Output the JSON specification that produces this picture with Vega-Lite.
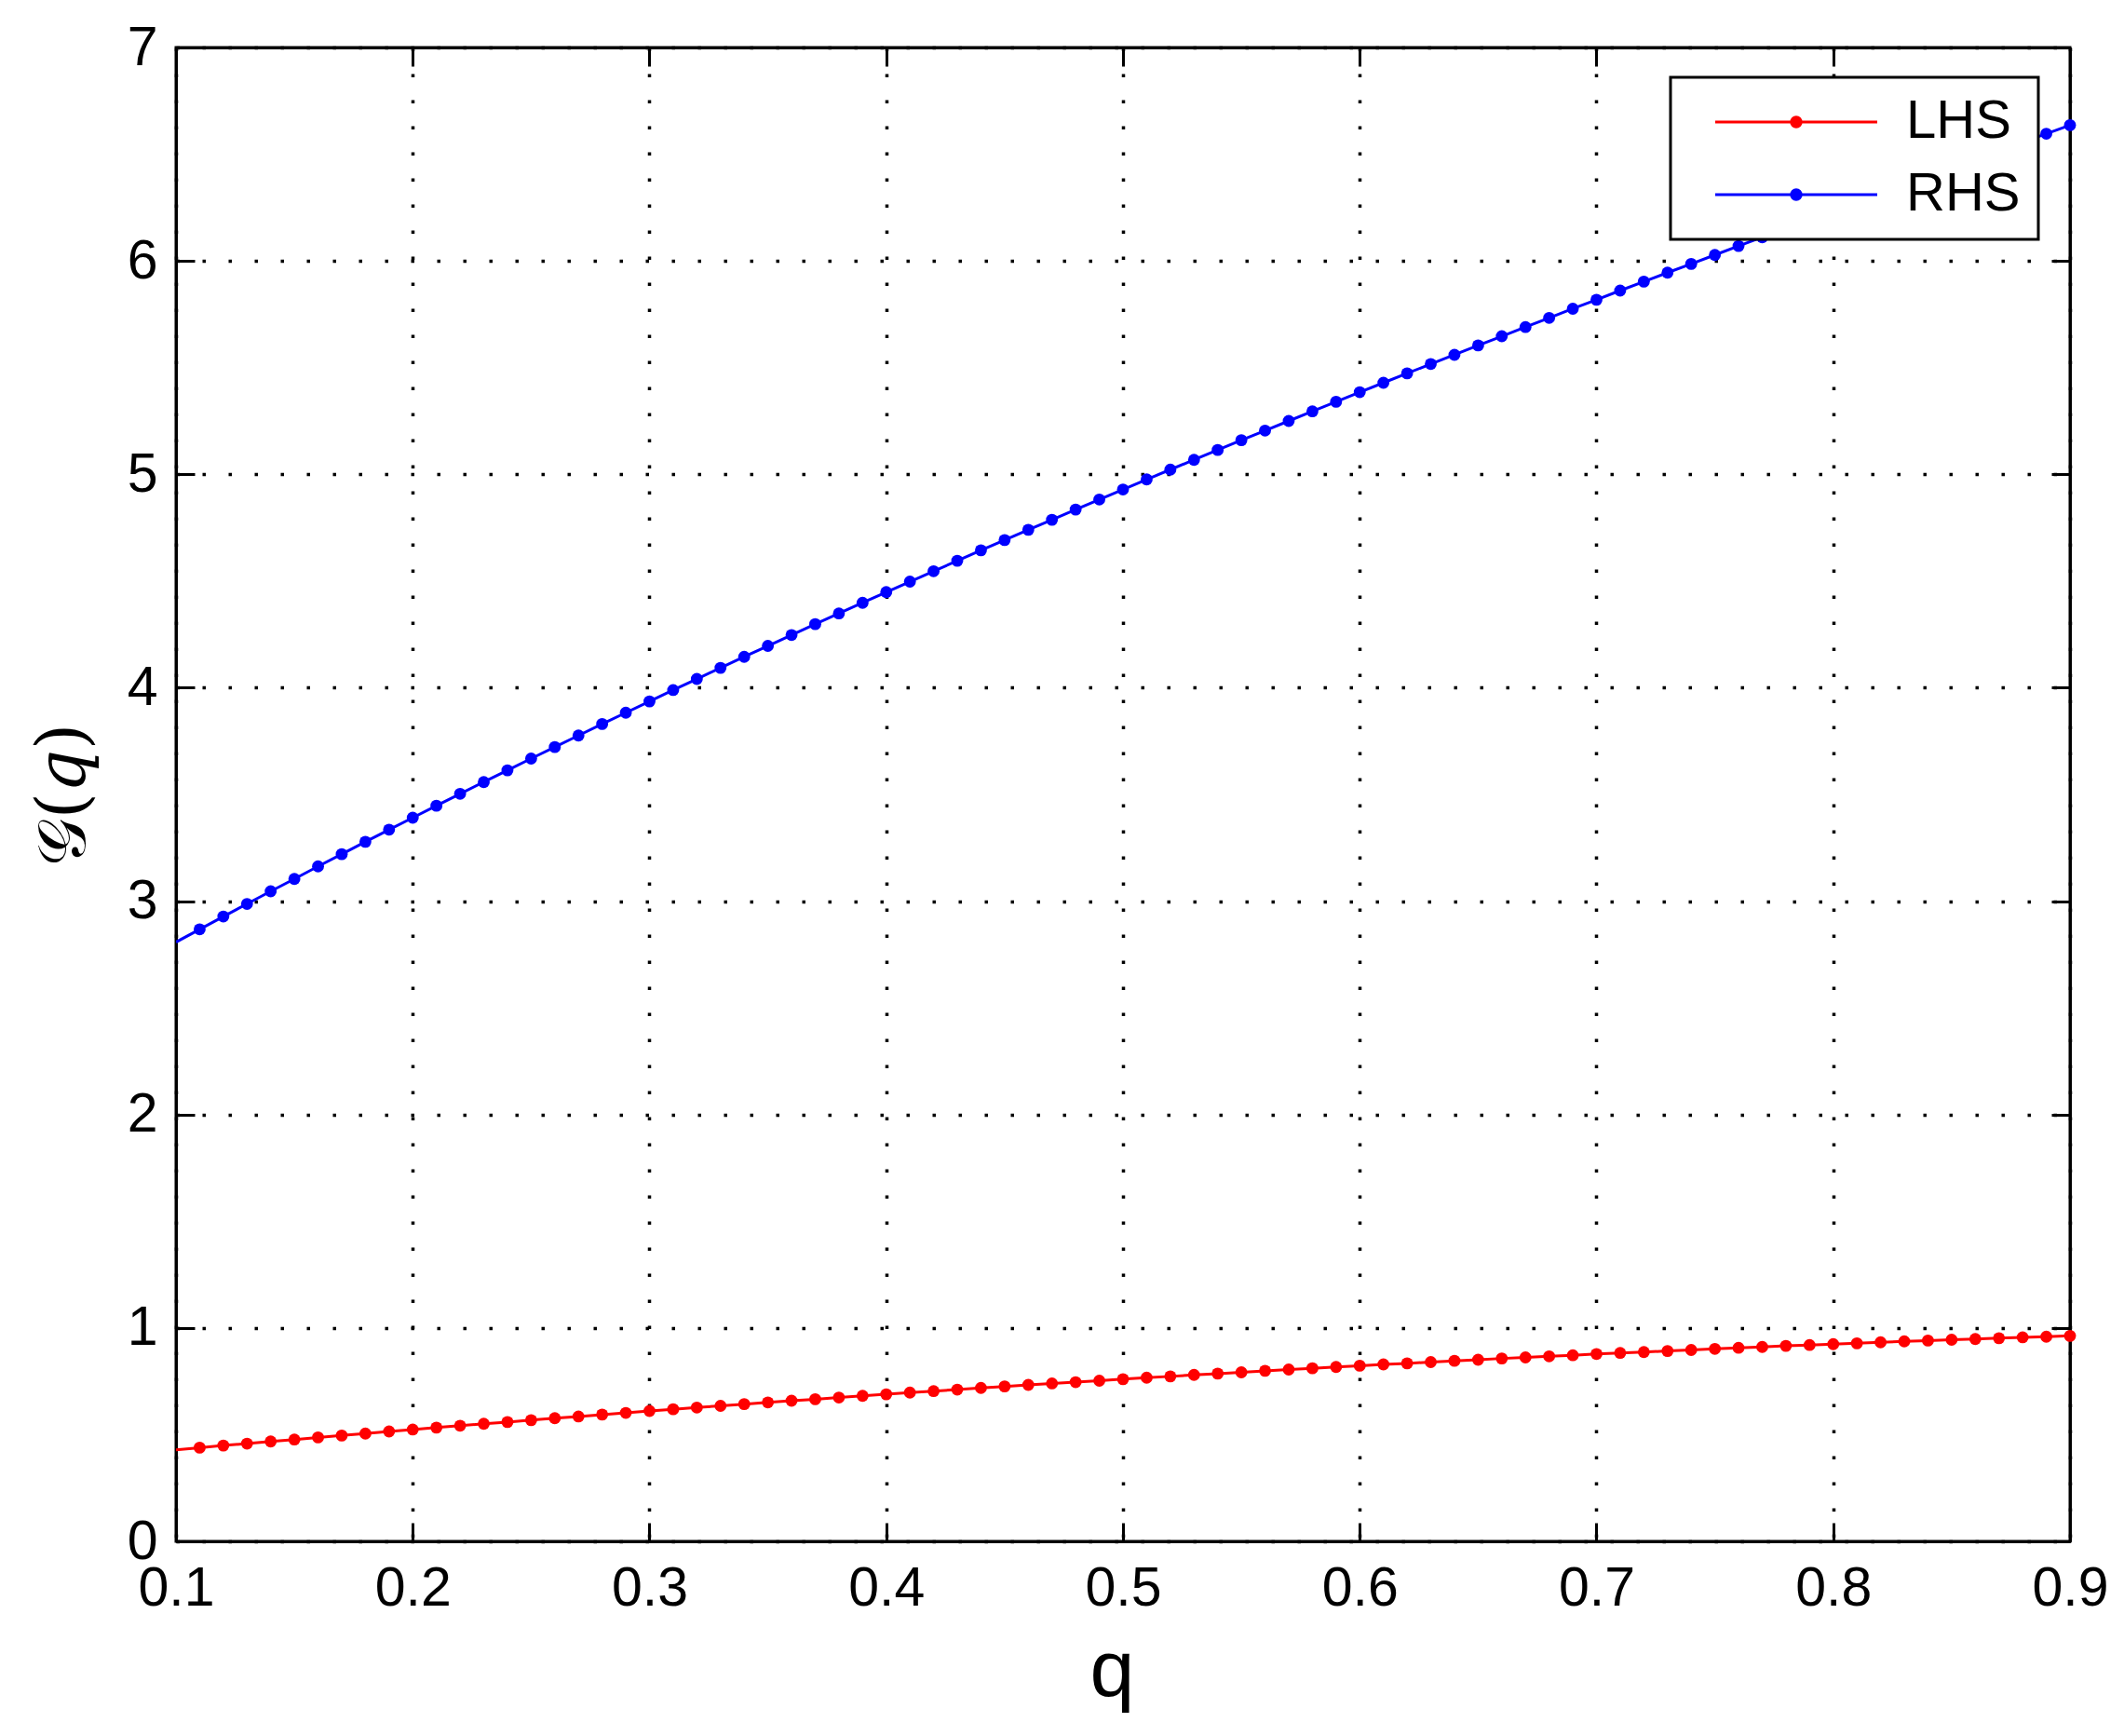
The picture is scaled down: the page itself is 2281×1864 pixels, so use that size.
{
  "$schema": "https://vega.github.io/schema/vega-lite/v6.json",
  "width": 2034,
  "height": 1604,
  "autosize": {"type": "none"},
  "padding": {"left": 189, "top": 51, "right": 58, "bottom": 209},
  "background": "white",
  "config": {
    "view": {"stroke": "black", "strokeWidth": 3},
    "legend": {"strokeWidth": 3},
    "axis": {
      "domainColor": "black", "domainWidth": 3,
      "tickColor": "black", "tickWidth": 3, "tickSize": -20,
      "labelFont": "Liberation Sans", "labelFontSize": 59, "labelColor": "black",
      "gridColor": "black", "gridWidth": 3.5, "gridDash": [3.5, 24.5], "gridOpacity": 1
    }
  },
  "datasets": {
    "pts": [
      {"q":0.10,"s":"LHS","v":0.429},{"q":0.11,"s":"LHS","v":0.439},{"q":0.12,"s":"LHS","v":0.449},{"q":0.13,"s":"LHS","v":0.458},{"q":0.14,"s":"LHS","v":0.468},
      {"q":0.15,"s":"LHS","v":0.477},{"q":0.16,"s":"LHS","v":0.487},{"q":0.17,"s":"LHS","v":0.496},{"q":0.18,"s":"LHS","v":0.505},{"q":0.19,"s":"LHS","v":0.515},
      {"q":0.20,"s":"LHS","v":0.524},{"q":0.21,"s":"LHS","v":0.533},{"q":0.22,"s":"LHS","v":0.542},{"q":0.23,"s":"LHS","v":0.551},{"q":0.24,"s":"LHS","v":0.559},
      {"q":0.25,"s":"LHS","v":0.568},{"q":0.26,"s":"LHS","v":0.577},{"q":0.27,"s":"LHS","v":0.585},{"q":0.28,"s":"LHS","v":0.594},{"q":0.29,"s":"LHS","v":0.602},
      {"q":0.30,"s":"LHS","v":0.611},{"q":0.31,"s":"LHS","v":0.619},{"q":0.32,"s":"LHS","v":0.627},{"q":0.33,"s":"LHS","v":0.635},{"q":0.34,"s":"LHS","v":0.643},
      {"q":0.35,"s":"LHS","v":0.651},{"q":0.36,"s":"LHS","v":0.659},{"q":0.37,"s":"LHS","v":0.666},{"q":0.38,"s":"LHS","v":0.674},{"q":0.39,"s":"LHS","v":0.682},
      {"q":0.40,"s":"LHS","v":0.689},{"q":0.41,"s":"LHS","v":0.697},{"q":0.42,"s":"LHS","v":0.704},{"q":0.43,"s":"LHS","v":0.711},{"q":0.44,"s":"LHS","v":0.719},
      {"q":0.45,"s":"LHS","v":0.726},{"q":0.46,"s":"LHS","v":0.733},{"q":0.47,"s":"LHS","v":0.740},{"q":0.48,"s":"LHS","v":0.746},{"q":0.49,"s":"LHS","v":0.753},
      {"q":0.50,"s":"LHS","v":0.760},{"q":0.51,"s":"LHS","v":0.767},{"q":0.52,"s":"LHS","v":0.773},{"q":0.53,"s":"LHS","v":0.780},{"q":0.54,"s":"LHS","v":0.786},
      {"q":0.55,"s":"LHS","v":0.792},{"q":0.56,"s":"LHS","v":0.799},{"q":0.57,"s":"LHS","v":0.805},{"q":0.58,"s":"LHS","v":0.811},{"q":0.59,"s":"LHS","v":0.817},
      {"q":0.60,"s":"LHS","v":0.823},{"q":0.61,"s":"LHS","v":0.829},{"q":0.62,"s":"LHS","v":0.834},{"q":0.63,"s":"LHS","v":0.840},{"q":0.64,"s":"LHS","v":0.846},
      {"q":0.65,"s":"LHS","v":0.851},{"q":0.66,"s":"LHS","v":0.857},{"q":0.67,"s":"LHS","v":0.862},{"q":0.68,"s":"LHS","v":0.867},{"q":0.69,"s":"LHS","v":0.872},
      {"q":0.70,"s":"LHS","v":0.878},{"q":0.71,"s":"LHS","v":0.883},{"q":0.72,"s":"LHS","v":0.887},{"q":0.73,"s":"LHS","v":0.892},{"q":0.74,"s":"LHS","v":0.897},
      {"q":0.75,"s":"LHS","v":0.902},{"q":0.76,"s":"LHS","v":0.907},{"q":0.77,"s":"LHS","v":0.911},{"q":0.78,"s":"LHS","v":0.916},{"q":0.79,"s":"LHS","v":0.920},
      {"q":0.80,"s":"LHS","v":0.924},{"q":0.81,"s":"LHS","v":0.928},{"q":0.82,"s":"LHS","v":0.933},{"q":0.83,"s":"LHS","v":0.937},{"q":0.84,"s":"LHS","v":0.941},
      {"q":0.85,"s":"LHS","v":0.945},{"q":0.86,"s":"LHS","v":0.948},{"q":0.87,"s":"LHS","v":0.952},{"q":0.88,"s":"LHS","v":0.956},{"q":0.89,"s":"LHS","v":0.959},
      {"q":0.90,"s":"LHS","v":0.963},
      {"q":0.10,"s":"RHS","v":2.808},{"q":0.11,"s":"RHS","v":2.868},{"q":0.12,"s":"RHS","v":2.928},{"q":0.13,"s":"RHS","v":2.987},{"q":0.14,"s":"RHS","v":3.046},
      {"q":0.15,"s":"RHS","v":3.104},{"q":0.16,"s":"RHS","v":3.163},{"q":0.17,"s":"RHS","v":3.220},{"q":0.18,"s":"RHS","v":3.278},{"q":0.19,"s":"RHS","v":3.335},
      {"q":0.20,"s":"RHS","v":3.391},{"q":0.21,"s":"RHS","v":3.447},{"q":0.22,"s":"RHS","v":3.503},{"q":0.23,"s":"RHS","v":3.558},{"q":0.24,"s":"RHS","v":3.613},
      {"q":0.25,"s":"RHS","v":3.668},{"q":0.26,"s":"RHS","v":3.722},{"q":0.27,"s":"RHS","v":3.776},{"q":0.28,"s":"RHS","v":3.830},{"q":0.29,"s":"RHS","v":3.883},
      {"q":0.30,"s":"RHS","v":3.936},{"q":0.31,"s":"RHS","v":3.989},{"q":0.32,"s":"RHS","v":4.041},{"q":0.33,"s":"RHS","v":4.093},{"q":0.34,"s":"RHS","v":4.145},
      {"q":0.35,"s":"RHS","v":4.196},{"q":0.36,"s":"RHS","v":4.247},{"q":0.37,"s":"RHS","v":4.298},{"q":0.38,"s":"RHS","v":4.348},{"q":0.39,"s":"RHS","v":4.398},
      {"q":0.40,"s":"RHS","v":4.448},{"q":0.41,"s":"RHS","v":4.497},{"q":0.42,"s":"RHS","v":4.546},{"q":0.43,"s":"RHS","v":4.595},{"q":0.44,"s":"RHS","v":4.644},
      {"q":0.45,"s":"RHS","v":4.692},{"q":0.46,"s":"RHS","v":4.740},{"q":0.47,"s":"RHS","v":4.787},{"q":0.48,"s":"RHS","v":4.835},{"q":0.49,"s":"RHS","v":4.882},
      {"q":0.50,"s":"RHS","v":4.929},{"q":0.51,"s":"RHS","v":4.976},{"q":0.52,"s":"RHS","v":5.022},{"q":0.53,"s":"RHS","v":5.068},{"q":0.54,"s":"RHS","v":5.114},
      {"q":0.55,"s":"RHS","v":5.160},{"q":0.56,"s":"RHS","v":5.205},{"q":0.57,"s":"RHS","v":5.250},{"q":0.58,"s":"RHS","v":5.295},{"q":0.59,"s":"RHS","v":5.340},
      {"q":0.60,"s":"RHS","v":5.385},{"q":0.61,"s":"RHS","v":5.429},{"q":0.62,"s":"RHS","v":5.473},{"q":0.63,"s":"RHS","v":5.517},{"q":0.64,"s":"RHS","v":5.560},
      {"q":0.65,"s":"RHS","v":5.604},{"q":0.66,"s":"RHS","v":5.647},{"q":0.67,"s":"RHS","v":5.690},{"q":0.68,"s":"RHS","v":5.733},{"q":0.69,"s":"RHS","v":5.776},
      {"q":0.70,"s":"RHS","v":5.818},{"q":0.71,"s":"RHS","v":5.861},{"q":0.72,"s":"RHS","v":5.903},{"q":0.73,"s":"RHS","v":5.945},{"q":0.74,"s":"RHS","v":5.986},
      {"q":0.75,"s":"RHS","v":6.028},{"q":0.76,"s":"RHS","v":6.070},{"q":0.77,"s":"RHS","v":6.111},{"q":0.78,"s":"RHS","v":6.152},{"q":0.79,"s":"RHS","v":6.193},
      {"q":0.80,"s":"RHS","v":6.234},{"q":0.81,"s":"RHS","v":6.275},{"q":0.82,"s":"RHS","v":6.315},{"q":0.83,"s":"RHS","v":6.356},{"q":0.84,"s":"RHS","v":6.396},
      {"q":0.85,"s":"RHS","v":6.437},{"q":0.86,"s":"RHS","v":6.477},{"q":0.87,"s":"RHS","v":6.517},{"q":0.88,"s":"RHS","v":6.557},{"q":0.89,"s":"RHS","v":6.596},
      {"q":0.90,"s":"RHS","v":6.636}
    ]
  },
  "data": {"name": "pts"},
  "layer": [
    {
      "mark": {"type": "line", "strokeWidth": 3, "clip": true},
      "encoding": {
        "x": {"field": "q", "type": "quantitative",
              "scale": {"domain": [0.1, 0.9], "nice": false, "zero": false},
              "axis": {"orient": "bottom", "values": [0.1,0.2,0.3,0.4,0.5,0.6,0.7,0.8,0.9], "format": ".1f",
                       "grid": true, "labelPadding": 41, "labelFlush": false,
                       "title": "q", "titleFont": "Liberation Sans", "titleFontSize": 86, "titleFontWeight": "normal",
                       "titleColor": "black", "titleX": 1005, "titleY": 165, "titleBaseline": "alphabetic", "titleAlign": "center"}},
        "y": {"field": "v", "type": "quantitative",
              "scale": {"domain": [0, 7], "nice": false},
              "axis": {"orient": "left", "values": [0,1,2,3,4,5,6,7], "format": "d",
                       "grid": true, "labelPadding": 40, "labelFlush": false,
                       "title": "𝒢(𝑞)", "titleFont": "DejaVu Serif", "titleFontSize": 72, "titleFontWeight": "normal",
                       "titleColor": "black", "titleAngle": 270, "titleX": -99, "titleY": 802, "titleBaseline": "alphabetic", "titleAlign": "center"}},
        "color": {"field": "s", "type": "nominal",
                  "scale": {"domain": ["LHS", "RHS"], "range": ["#ff0000", "#0000ff"]},
                  "legend": {
                    "title": null, "orient": "none", "legendX": 1605, "legendY": 32,
                    "padding": 19, "strokeColor": "black", "fillColor": "white",
                    "labelFont": "Liberation Sans", "labelFontSize": 58, "labelColor": "black",
                    "labelOffset": 176, "rowPadding": 20,
                    "symbolType": "M0,0L10,0M5.3,0L5.277,0.115L5.212,0.212L5.115,0.277L5,0.3L4.885,0.277L4.788,0.212L4.723,0.115L4.7,0L4.723,-0.115L4.788,-0.212L4.885,-0.277L5,-0.3L5.115,-0.277L5.212,-0.212L5.277,-0.115Z",
                    "symbolSize": 1211, "symbolStrokeWidth": 3,
                    "encode": {"symbols": {"update": {
                      "fill": {"signal": "scale('color', datum.value)"},
                      "stroke": {"signal": "scale('color', datum.value)"}
                    }}}
                  }}
      }
    },
    {
      "transform": [{"filter": "datum.q > 0.105"}],
      "mark": {"type": "point", "filled": true, "size": 165, "opacity": 1},
      "encoding": {
        "x": {"field": "q", "type": "quantitative",
              "axis": {"orient": "top", "values": [0.1,0.2,0.3,0.4,0.5,0.6,0.7,0.8,0.9], "labels": false, "grid": false, "title": null}},
        "y": {"field": "v", "type": "quantitative",
              "axis": {"orient": "right", "values": [0,1,2,3,4,5,6,7], "labels": false, "grid": false, "title": null}},
        "color": {"field": "s", "type": "nominal"}
      }
    }
  ],
  "resolve": {"axis": {"x": "independent", "y": "independent"}}
}
